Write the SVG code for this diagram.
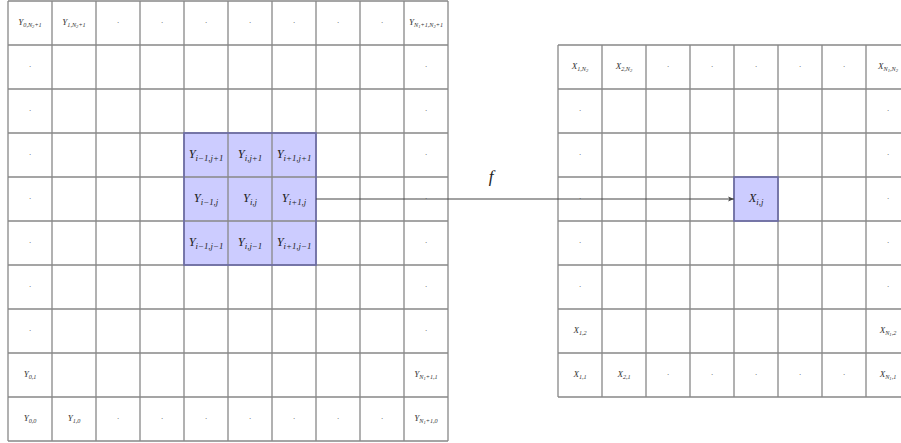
<svg xmlns="http://www.w3.org/2000/svg" width="901" height="443" viewBox="0 0 901 443">
<style>
.bg{fill:#ffffff}
.grid{stroke:#888888;stroke-width:1.3;fill:none}
.hl{fill:#ccccff;stroke:none}
.hlb{fill:none;stroke:#6b6ba8;stroke-width:1.6}
.t{font-family:"Liberation Serif","DejaVu Serif",serif;font-style:italic;font-size:9px;fill:#333333;text-anchor:middle}
.t .a{font-size:6.2px}
.t .b{font-size:4.6px}
.T{font-family:"Liberation Serif","DejaVu Serif",serif;font-style:italic;font-size:12.5px;fill:#222222;text-anchor:middle}
.T .a{font-size:8.8px}
.d{font-family:"DejaVu Sans",sans-serif;font-size:7px;fill:#555555;text-anchor:middle}
.f{font-family:"Liberation Serif","DejaVu Serif",serif;font-style:italic;font-size:17px;fill:#222222;text-anchor:middle}
.conn{stroke:#444444;stroke-width:1;fill:none}
</style>
<defs>
<marker id="ah" markerWidth="8" markerHeight="8" refX="6" refY="3" orient="auto" markerUnits="userSpaceOnUse">
<path d="M0,0.5 L6,3 L0,5.5 L1.5,3 Z" fill="#444444"/>
</marker>
</defs>
<rect class="bg" x="0" y="0" width="901" height="443"/>

<rect class="hl" x="184" y="133" width="132" height="132"/>
<rect class="hl" x="734" y="177" width="44" height="44"/>

<g id="gridY">
<path class="grid" d="M8,1V441M52,1V441M96,1V441M140,1V441M184,1V441M228,1V441M272,1V441M316,1V441M360,1V441M404,1V441M448,1V441
M8,1H448M8,45H448M8,89H448M8,133H448M8,177H448M8,221H448M8,265H448M8,309H448M8,353H448M8,397H448M8,441H448"/>
</g>
<g id="gridX">
<path class="grid" d="M558,45V397M602,45V397M646,45V397M690,45V397M734,45V397M778,45V397M822,45V397M866,45V397M910,45V397
M558,45H910M558,89H910M558,133H910M558,177H910M558,221H910M558,265H910M558,309H910M558,353H910M558,397H910"/>
</g>

<rect class="hlb" x="184" y="133" width="132" height="132"/>
<rect class="hlb" x="734" y="177" width="44" height="44"/>

<g id="connectors">
<line class="conn" x1="316" y1="199" x2="734" y2="199" marker-end="url(#ah)"/>
<text class="f" x="491" y="182">f</text>
</g>

<g id="Y_0_N2p1"><text class="t" x="30" y="25">Y<tspan class="a" dy="2">0,N</tspan><tspan class="b" dy="1">2</tspan><tspan class="a" dy="-1">+1</tspan></text></g>
<g id="Y_1_N2p1"><text class="t" x="74" y="25">Y<tspan class="a" dy="2">1,N</tspan><tspan class="b" dy="1">2</tspan><tspan class="a" dy="-1">+1</tspan></text></g>
<g id="Y_N1p1_N2p1"><text class="t" x="426" y="25">Y<tspan class="a" dy="2">N</tspan><tspan class="b" dy="1">1</tspan><tspan class="a" dy="-1">+1,N</tspan><tspan class="b" dy="1">2</tspan><tspan class="a" dy="-1">+1</tspan></text></g>
<g id="Y_0_1"><text class="t" x="30" y="377">Y<tspan class="a" dy="2">0,1</tspan></text></g>
<g id="Y_N1p1_1"><text class="t" x="426" y="377">Y<tspan class="a" dy="2">N</tspan><tspan class="b" dy="1">1</tspan><tspan class="a" dy="-1">+1,1</tspan></text></g>
<g id="Y_0_0"><text class="t" x="30" y="421">Y<tspan class="a" dy="2">0,0</tspan></text></g>
<g id="Y_1_0"><text class="t" x="74" y="421">Y<tspan class="a" dy="2">1,0</tspan></text></g>
<g id="Y_N1p1_0"><text class="t" x="426" y="421">Y<tspan class="a" dy="2">N</tspan><tspan class="b" dy="1">1</tspan><tspan class="a" dy="-1">+1,0</tspan></text></g>

<g id="Y_im1_jp1"><text class="T" x="206" y="158">Y<tspan class="a" dy="3">i−1,j+1</tspan></text></g>
<g id="Y_i_jp1"><text class="T" x="250" y="158">Y<tspan class="a" dy="3">i,j+1</tspan></text></g>
<g id="Y_ip1_jp1"><text class="T" x="294" y="158">Y<tspan class="a" dy="3">i+1,j+1</tspan></text></g>
<g id="Y_im1_j"><text class="T" x="206" y="202">Y<tspan class="a" dy="3">i−1,j</tspan></text></g>
<g id="Y_i_j"><text class="T" x="250" y="202">Y<tspan class="a" dy="3">i,j</tspan></text></g>
<g id="Y_ip1_j"><text class="T" x="294" y="202">Y<tspan class="a" dy="3">i+1,j</tspan></text></g>
<g id="Y_im1_jm1"><text class="T" x="206" y="246">Y<tspan class="a" dy="3">i−1,j−1</tspan></text></g>
<g id="Y_i_jm1"><text class="T" x="250" y="246">Y<tspan class="a" dy="3">i,j−1</tspan></text></g>
<g id="Y_ip1_jm1"><text class="T" x="294" y="246">Y<tspan class="a" dy="3">i+1,j−1</tspan></text></g>

<g id="Ydots">
<text class="d" x="118" y="25">·</text><text class="d" x="162" y="25">·</text><text class="d" x="206" y="25">·</text><text class="d" x="250" y="25">·</text><text class="d" x="294" y="25">·</text><text class="d" x="338" y="25">·</text><text class="d" x="382" y="25">·</text>
<text class="d" x="118" y="421">·</text><text class="d" x="162" y="421">·</text><text class="d" x="206" y="421">·</text><text class="d" x="250" y="421">·</text><text class="d" x="294" y="421">·</text><text class="d" x="338" y="421">·</text><text class="d" x="382" y="421">·</text>
<text class="d" x="30" y="69">·</text><text class="d" x="30" y="113">·</text><text class="d" x="30" y="157">·</text><text class="d" x="30" y="201">·</text><text class="d" x="30" y="245">·</text><text class="d" x="30" y="289">·</text><text class="d" x="30" y="333">·</text>
<text class="d" x="426" y="69">·</text><text class="d" x="426" y="113">·</text><text class="d" x="426" y="157">·</text><text class="d" x="426" y="201">·</text><text class="d" x="426" y="245">·</text><text class="d" x="426" y="289">·</text><text class="d" x="426" y="333">·</text>
</g>

<g id="X_1_N2"><text class="t" x="580" y="69">X<tspan class="a" dy="2">1,N</tspan><tspan class="b" dy="1">2</tspan></text></g>
<g id="X_2_N2"><text class="t" x="624" y="69">X<tspan class="a" dy="2">2,N</tspan><tspan class="b" dy="1">2</tspan></text></g>
<g id="X_N1_N2"><text class="t" x="888" y="69">X<tspan class="a" dy="2">N</tspan><tspan class="b" dy="1">1</tspan><tspan class="a" dy="-1">,N</tspan><tspan class="b" dy="1">2</tspan></text></g>
<g id="X_1_2"><text class="t" x="580" y="333">X<tspan class="a" dy="2">1,2</tspan></text></g>
<g id="X_N1_2"><text class="t" x="888" y="333">X<tspan class="a" dy="2">N</tspan><tspan class="b" dy="1">1</tspan><tspan class="a" dy="-1">,2</tspan></text></g>
<g id="X_1_1"><text class="t" x="580" y="377">X<tspan class="a" dy="2">1,1</tspan></text></g>
<g id="X_2_1"><text class="t" x="624" y="377">X<tspan class="a" dy="2">2,1</tspan></text></g>
<g id="X_N1_1"><text class="t" x="888" y="377">X<tspan class="a" dy="2">N</tspan><tspan class="b" dy="1">1</tspan><tspan class="a" dy="-1">,1</tspan></text></g>
<g id="X_i_j"><text class="T" x="756" y="202">X<tspan class="a" dy="3">i,j</tspan></text></g>

<g id="Xdots">
<text class="d" x="668" y="69">·</text><text class="d" x="712" y="69">·</text><text class="d" x="756" y="69">·</text><text class="d" x="800" y="69">·</text><text class="d" x="844" y="69">·</text>
<text class="d" x="668" y="377">·</text><text class="d" x="712" y="377">·</text><text class="d" x="756" y="377">·</text><text class="d" x="800" y="377">·</text><text class="d" x="844" y="377">·</text>
<text class="d" x="580" y="113">·</text><text class="d" x="580" y="157">·</text><text class="d" x="580" y="201">·</text><text class="d" x="580" y="245">·</text><text class="d" x="580" y="289">·</text>
<text class="d" x="888" y="113">·</text><text class="d" x="888" y="157">·</text><text class="d" x="888" y="201">·</text><text class="d" x="888" y="245">·</text><text class="d" x="888" y="289">·</text>
</g>
</svg>
